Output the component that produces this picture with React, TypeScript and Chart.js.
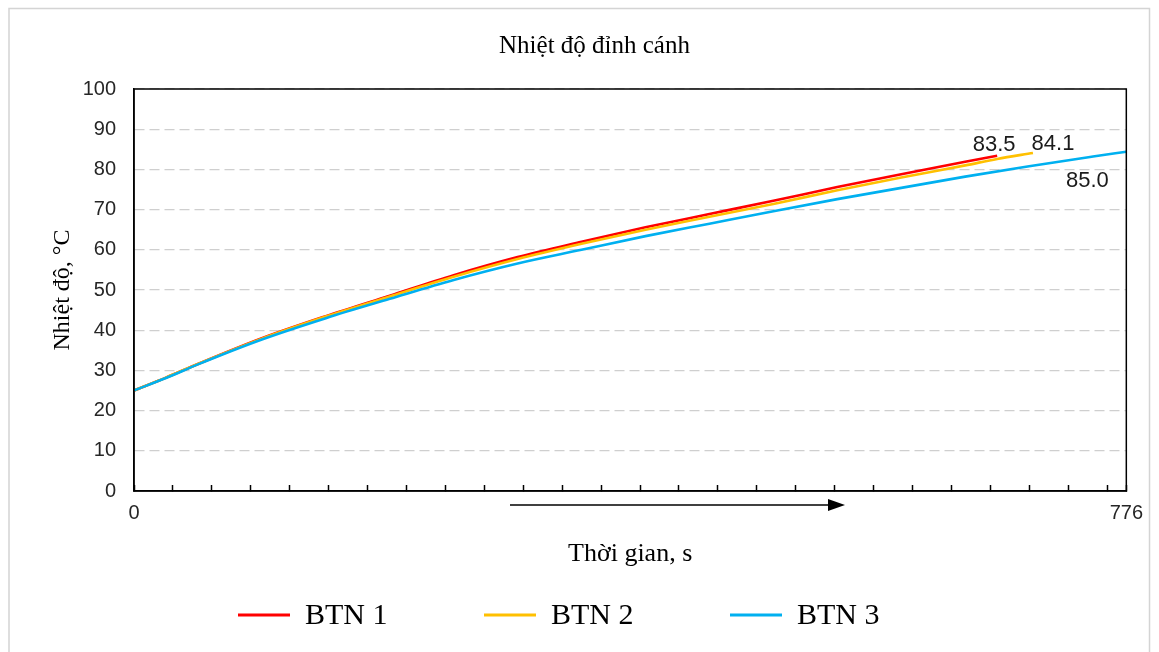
import React, { useEffect, useRef } from "react";
import { Chart, registerables } from "chart.js";

Chart.register(...registerables);

// ---------- Text ----------
const chartTitle = "Nhiệt độ đỉnh cánh";
const xAxisTitle = "Thời gian, s";
const yAxisTitle = "Nhiệt độ, °C";

// ---------- Series ----------
const seriesNames = ["BTN 1", "BTN 2", "BTN 3"];
const seriesColors = ["#FF0000", "#FFC000", "#00B0F0"];
const endLabels = ["83.5", "84.1", "85.0"];

const timeBTN1 = [0, 25, 50, 100, 150, 200, 250, 300, 350, 400, 450, 500, 550, 600, 650, 675];
const tempBTN1 = [25.0, 28.2, 31.6, 38.0, 43.5, 48.6, 53.7, 58.2, 62.0, 65.6, 68.9, 72.2, 75.6, 78.8, 81.9, 83.4];

const timeBTN2 = [0, 25, 50, 100, 150, 200, 250, 300, 350, 400, 450, 500, 550, 600, 650, 675, 703];
const tempBTN2 = [25.0, 28.2, 31.6, 37.9, 43.4, 48.4, 53.3, 57.7, 61.5, 65.0, 68.2, 71.4, 74.8, 78.0, 81.0, 82.6, 84.1];

const timeBTN3 = [0, 25, 50, 100, 150, 200, 250, 300, 350, 400, 450, 500, 550, 600, 650, 700, 750, 776];
const tempBTN3 = [25.0, 28.1, 31.5, 37.7, 43.0, 47.8, 52.5, 56.6, 60.0, 63.4, 66.5, 69.6, 72.6, 75.4, 78.2, 80.8, 83.2, 84.4];

// ---------- Axes ----------
const xMin = 0;
const xMax = 776;
const xTickStep = 30.44;
const xLabelValues = [0, 776];
const yMin = 0;
const yMax = 100;
const yStep = 10;

const seriesTimes = [timeBTN1, timeBTN2, timeBTN3];
const seriesTemps = [tempBTN1, tempBTN2, tempBTN3];
const seriesDrawOrder = [2, 1, 0];

const SERIF = "'Liberation Serif', 'Times New Roman', serif";
const SANS = "'Liberation Sans', Arial, sans-serif";

// label offsets relative to each series' last point
const endLabelOffsets = [
  [-3, -11],
  [20, -9],
  [-39, 29],
];

const decorPlugin = {
  id: "decor",
  beforeDraw(chart: any) {
    const { ctx, width, height } = chart;
    ctx.save();
    ctx.fillStyle = "#ffffff";
    ctx.fillRect(0, 0, width, height);
    ctx.strokeStyle = "#d4d4d4";
    ctx.lineWidth = 1.5;
    ctx.strokeRect(9, 8.5, width - 18.5, height + 20);
    ctx.restore();
  },
  afterDatasetsDraw(chart: any) {
    const { ctx, chartArea } = chart;
    ctx.save();
    // plot frame
    ctx.strokeStyle = "#000000";
    ctx.lineWidth = 1.5;
    ctx.strokeRect(chartArea.left, chartArea.top, chartArea.right - chartArea.left, chartArea.bottom - chartArea.top);

    // end value labels
    ctx.fillStyle = "#1a1a1a";
    ctx.font = `22px ${SANS}`;
    ctx.textAlign = "center";
    ctx.textBaseline = "middle";
    chart.data.datasets.forEach((ds: any, i: number) => {
      const meta = chart.getDatasetMeta(i);
      const last = meta.data[meta.data.length - 1];
      if (!last) return;
      const [dx, dy] = endLabelOffsets[i];
      ctx.fillText(endLabels[i], last.x + dx, last.y + dy);
    });

    // time arrow under the axis
    const ay = chartArea.bottom + 14;
    const ax0 = 510;
    const ax1 = 845;
    ctx.strokeStyle = "#000";
    ctx.lineWidth = 1.5;
    ctx.beginPath();
    ctx.moveTo(ax0, ay);
    ctx.lineTo(ax1 - 14, ay);
    ctx.stroke();
    ctx.fillStyle = "#000";
    ctx.beginPath();
    ctx.moveTo(ax1, ay);
    ctx.lineTo(ax1 - 17, ay - 6);
    ctx.lineTo(ax1 - 17, ay + 6);
    ctx.closePath();
    ctx.fill();

    // legend
    const ly = 615;
    ctx.font = `30px ${SERIF}`;
    ctx.textAlign = "left";
    ctx.textBaseline = "middle";
    chart.data.datasets.forEach((ds: any, i: number) => {
      const x0 = 238 + i * 246;
      ctx.strokeStyle = ds.borderColor;
      ctx.lineWidth = 3;
      ctx.beginPath();
      ctx.moveTo(x0, ly);
      ctx.lineTo(x0 + 52, ly);
      ctx.stroke();
      ctx.fillStyle = "#000";
      ctx.fillText(ds.label, x0 + 67, ly + 1);
    });
    ctx.restore();
  },
};

export default function App() {
  const canvasRef = useRef<HTMLCanvasElement | null>(null);

  useEffect(() => {
    if (!canvasRef.current) return;
    const datasets = seriesNames.map((name, i) => ({
      label: name,
      data: seriesTimes[i].map((t, j) => ({ x: t, y: seriesTemps[i][j] })),
      borderColor: seriesColors[i],
      backgroundColor: seriesColors[i],
      borderWidth: 2.6,
      pointRadius: 0,
      order: seriesDrawOrder[i],
      cubicInterpolationMode: "monotone" as const,
      fill: false,
    }));

    const chart = new Chart(canvasRef.current, {
      type: "line",
      data: { datasets },
      plugins: [decorPlugin],
      options: {
        animation: false,
        responsive: false,
        devicePixelRatio: 1,
        layout: { padding: { left: 40, right: 10, top: 0, bottom: 82 } },
        plugins: {
          legend: { display: false },
          tooltip: { enabled: false },
          title: {
            display: true,
            text: chartTitle,
            color: "#000",
            font: { family: SERIF, size: 25, weight: "normal" },
            padding: { top: 31, bottom: 28 },
          },
        },
        scales: {
          x: {
            type: "linear",
            min: xMin,
            max: xMax,
            afterBuildTicks: (scale: any) => {
              const ticks: { value: number }[] = [];
              for (let v = xMin; v < xMax - 1; v += xTickStep) ticks.push({ value: v });
              ticks.push({ value: xMax });
              scale.ticks = ticks;
            },
            afterFit: (scale: any) => {
              scale.height = 79;
            },
            ticks: {
              autoSkip: false,
              maxRotation: 0,
              padding: 16,
              color: "#262626",
              font: { family: SANS, size: 20 },
              callback: (value: any) => (xLabelValues.includes(Number(value)) ? String(value) : ""),
            },
            grid: {
              drawOnChartArea: false,
              drawTicks: true,
              tickLength: -6,
              tickColor: "#000",
              tickWidth: 1.5,
            },
            border: { display: true, color: "#000", width: 1.5 },
            title: {
              display: true,
              text: xAxisTitle,
              color: "#000",
              font: { family: SERIF, size: 26, weight: "normal" },
              padding: { top: 0, bottom: 0 },
            },
          },
          y: {
            type: "linear",
            min: yMin,
            max: yMax,
            afterFit: (scale: any) => {
              scale.width = 94;
            },
            ticks: {
              stepSize: yStep,
              padding: 18,
              color: "#262626",
              font: { family: SANS, size: 20 },
            },
            grid: {
              color: "#cfcfcf",
              lineWidth: 1.2,
              drawTicks: false,
            },
            border: { display: true, color: "#000", width: 1.5, dash: [10, 5] },
            title: {
              display: true,
              text: yAxisTitle,
              color: "#000",
              font: { family: SERIF, size: 24, weight: "normal" },
              padding: { top: 8, bottom: 0 },
            },
          },
        },
      },
    });
    return () => chart.destroy();
  }, []);

  return (
    <div style={{ position: "absolute", left: 0, top: 0, width: 1159, height: 652, background: "#fff" }}>
      <canvas ref={canvasRef} width={1159} height={652} />
    </div>
  );
}
